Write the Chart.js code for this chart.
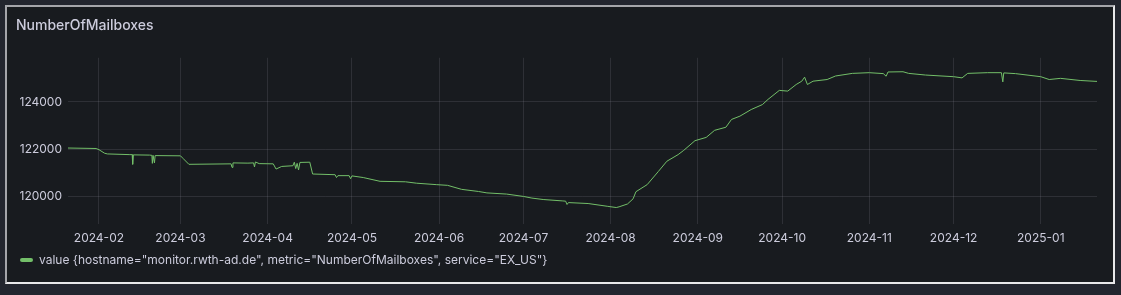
<!DOCTYPE html>
<html lang="en">
<head>
    <meta charset="UTF-8">
    <title>NumberOfMailboxes</title>
    <script src="https://cdn.jsdelivr.net/npm/chart.js"></script>
    <style>
        html, body { margin: 0; padding: 0; background: #22252e; }
        body { width: 1121px; height: 295px; position: relative; overflow: hidden; font-family: Inter, sans-serif; }
        .panel {
            position: absolute; left: 5px; top: 5px; width: 1106px; height: 275px;
            background: #181b1f;
            border-style: solid; border-width: 2px;
            border-color: #a4a5aa #e8e8ea #e8e8ea #a4a5aa;
        }
        .panel canvas { position: absolute; left: 0; top: 0; }
    </style>
</head>
<body>
    <div class="panel">
        <canvas id="mailboxChart" width="1106" height="275"></canvas>
    </div>

    <script>
        const dates = [
            "2024-01-21", "2024-01-31", "2024-02-01", "2024-02-03", "2024-02-04", "2024-02-12",
            "2024-02-12T20:00", "2024-02-13T00:00", "2024-02-13T06:00",
            "2024-02-19", "2024-02-19T20:00", "2024-02-20T00:00", "2024-02-20T06:00", "2024-02-20T18:00", "2024-02-21",
            "2024-03-01", "2024-03-02", "2024-03-04", "2024-03-19", "2024-03-19T08:00", "2024-03-19T16:00",
            "2024-03-25", "2024-03-27", "2024-03-27T08:00", "2024-03-27T16:00", "2024-03-29",
            "2024-04-03", "2024-04-04", "2024-04-06", "2024-04-10", "2024-04-10T12:00", "2024-04-11",
            "2024-04-11T12:00", "2024-04-12", "2024-04-12T12:00", "2024-04-16", "2024-04-17",
            "2024-04-25", "2024-04-25T12:00", "2024-04-26", "2024-04-30", "2024-04-30T12:00", "2024-05-01",
            "2024-05-05", "2024-05-11", "2024-05-20", "2024-05-24", "2024-05-31", "2024-06-04",
            "2024-06-09", "2024-06-15", "2024-06-18", "2024-06-25", "2024-07-01", "2024-07-04",
            "2024-07-08", "2024-07-15", "2024-07-16", "2024-07-16T12:00", "2024-07-17", "2024-07-24",
            "2024-07-31", "2024-08-03", "2024-08-04", "2024-08-07", "2024-08-09", "2024-08-10",
            "2024-08-14", "2024-08-18", "2024-08-21", "2024-08-25", "2024-08-27", "2024-08-31",
            "2024-09-04", "2024-09-07", "2024-09-11", "2024-09-13", "2024-09-16", "2024-09-20",
            "2024-09-24", "2024-09-26", "2024-09-30", "2024-10-03", "2024-10-06", "2024-10-08",
            "2024-10-09", "2024-10-10", "2024-10-12", "2024-10-17", "2024-10-20", "2024-10-26",
            "2024-11-01", "2024-11-06", "2024-11-07", "2024-11-07T16:00", "2024-11-13", "2024-11-15",
            "2024-11-21", "2024-12-01", "2024-12-04", "2024-12-06", "2024-12-13", "2024-12-18",
            "2024-12-18T12:00", "2024-12-18T20:00", "2024-12-23", "2025-01-01", "2025-01-04", "2025-01-08",
            "2025-01-15", "2025-01-21"
        ];
        const mailboxes = [
            122050, 122030, 121980, 121830, 121800, 121770,
            121770, 121360, 121760,
            121750, 121740, 121400, 121740, 121420, 121730,
            121720, 121600, 121360, 121380, 121230, 121420,
            121410, 121420, 121250, 121460, 121390,
            121380, 121160, 121270, 121300, 121450, 121180,
            121400, 121120, 121440, 121450, 120950,
            120920, 120800, 120880, 120880, 120750, 120870,
            120800, 120640, 120620, 120560, 120500, 120470,
            120300, 120210, 120150, 120100, 120000, 119930,
            119870, 119810, 119800, 119660, 119740, 119700,
            119580, 119530, 119560, 119680, 119900, 120200,
            120500, 121060, 121490, 121770, 121950, 122360,
            122500, 122800, 122930, 123260, 123400, 123680,
            123890, 124110, 124490, 124460, 124740, 124880,
            125050, 124740, 124880, 124950, 125100, 125210,
            125240, 125200, 125090, 125270, 125280, 125210,
            125140, 125070, 125020, 125210, 125240, 125240,
            124850, 125230, 125200, 125070, 124950, 125000,
            124910, 124870
        ];
        const monthTicks = [
            "2024-02-01", "2024-03-01", "2024-04-01", "2024-05-01", "2024-06-01", "2024-07-01",
            "2024-08-01", "2024-09-01", "2024-10-01", "2024-11-01", "2024-12-01", "2025-01-01"
        ];
        const valueTicks = [120000, 122000, 124000];
        const seriesLabel = 'value {hostname="monitor.rwth-ad.de", metric="NumberOfMailboxes", service="EX_US"}';

        const toMs = (s) => Date.parse(s.length === 10 ? s + "T00:00:00Z" : s + ":00Z");
        const points = dates.map((d, i) => ({ x: toMs(d), y: mailboxes[i] }));

        const textColor = "#ccccdc";
        const gridColor = "rgba(204, 204, 220, 0.12)";
        const green = "#73bf69";

        new Chart(document.getElementById("mailboxChart"), {
            type: "line",
            data: {
                datasets: [{
                    label: seriesLabel,
                    data: points,
                    borderColor: green,
                    backgroundColor: green,
                    borderWidth: 1,
                    pointRadius: 0,
                    tension: 0
                }]
            },
            options: {
                responsive: false,
                animation: false,
                layout: { padding: { left: 9, right: 16, top: 0, bottom: 6 } },
                plugins: {
                    title: {
                        display: true,
                        text: "NumberOfMailboxes",
                        align: "start",
                        color: textColor,
                        font: { family: "Inter", size: 14, weight: "500" },
                        padding: { top: 10, bottom: 24 }
                    },
                    legend: {
                        position: "bottom",
                        align: "start",
                        labels: {
                            color: textColor,
                            font: { family: "Inter", size: 12 },
                            boxWidth: 13,
                            boxHeight: 4,
                            padding: 4,
                            generateLabels: (chart) => [{
                                text: seriesLabel,
                                fillStyle: green,
                                strokeStyle: green,
                                lineWidth: 0,
                                fontColor: textColor,
                                borderRadius: 2,
                                datasetIndex: 0
                            }],
                            useBorderRadius: true
                        }
                    },
                    tooltip: { enabled: false }
                },
                scales: {
                    x: {
                        type: "linear",
                        min: toMs("2024-01-21"),
                        max: toMs("2025-01-21"),
                        afterBuildTicks: (scale) => {
                            scale.ticks = monthTicks.map((m) => ({ value: toMs(m) }));
                        },
                        afterFit: (scale) => { scale.height = scale.height - 4; },
                        ticks: {
                            color: textColor,
                            font: { family: "Inter", size: 12 },
                            padding: 8,
                            maxRotation: 0,
                            autoSkip: false,
                            callback: (v) => new Date(v).toISOString().slice(0, 7)
                        },
                        grid: { color: gridColor, drawTicks: false },
                        border: { display: false }
                    },
                    y: {
                        min: 118850,
                        max: 125870,
                        afterBuildTicks: (scale) => {
                            scale.ticks = valueTicks.map((v) => ({ value: v }));
                        },
                        afterFit: (scale) => { scale.width = 52; },
                        ticks: {
                            color: textColor,
                            font: { family: "Inter", size: 12 },
                            padding: 6,
                            callback: (v) => String(v)
                        },
                        grid: { color: gridColor, drawTicks: false },
                        border: { display: false }
                    }
                }
            }
        });
    </script>
</body>
</html>
